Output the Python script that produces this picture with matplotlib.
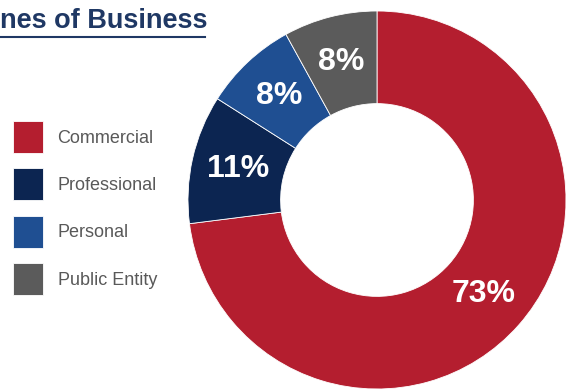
import matplotlib
matplotlib.use('Agg')
import matplotlib.pyplot as plt
from matplotlib.lines import Line2D

plt.rcParams['font.family'] = ['Liberation Sans', 'DejaVu Sans']

# Lines of business split
categories = ['Commercial', 'Professional', 'Personal', 'Public Entity']
shares = [73, 11, 8, 8]
colors = ['#B41E2F', '#0C2551', '#1F4F92', '#5B5B5B']

W, H = 567, 390
fig = plt.figure(figsize=(W / 100, H / 100), dpi=100)

# Donut axes, centre (377, 200) px, radius 189 px
cx, cy, r = 377, 200, 189
ax = fig.add_axes([(cx - r) / W, (H - cy - r) / H, 2 * r / W, 2 * r / H])

wedges, texts, autotexts = ax.pie(
    shares,
    colors = colors,
    startangle = 90,
    counterclock = False,
    radius = 1,
    autopct = '%d%%',
    pctdistance = 0.755,
    wedgeprops = dict(width = 0.49, edgecolor = 'white', linewidth = 0.6),
    textprops = dict(color = 'white', fontsize = 23, fontweight = 'bold')
    )
ax.set_xlim(-1, 1)
ax.set_ylim(-1, 1)
ax.set_aspect('equal')
ax.axis('off')

# Legend
fig.legend(
    wedges,
    categories,
    loc = 'upper left',
    bbox_to_anchor = (13 / W, 1 - 121 / H),
    frameon = False,
    fontsize = 13,
    handlelength = 1.67,
    handleheight = 2.35,
    handletextpad = 0.8,
    labelspacing = 0.85,
    borderpad = 0,
    borderaxespad = 0,
    labelcolor = '#595959'
    )

# Title with underline
fig.text(0, 1 - 21 / H, 'nes of Business', fontsize = 19.5,
         fontweight = 'bold', color = '#1F3864', va = 'center', ha = 'left')
fig.add_artist(Line2D([0, 205 / W], [1 - 37 / H, 1 - 37 / H],
                      color = '#1F3864', linewidth = 1.5))

fig.savefig('out.png', dpi = 100)
